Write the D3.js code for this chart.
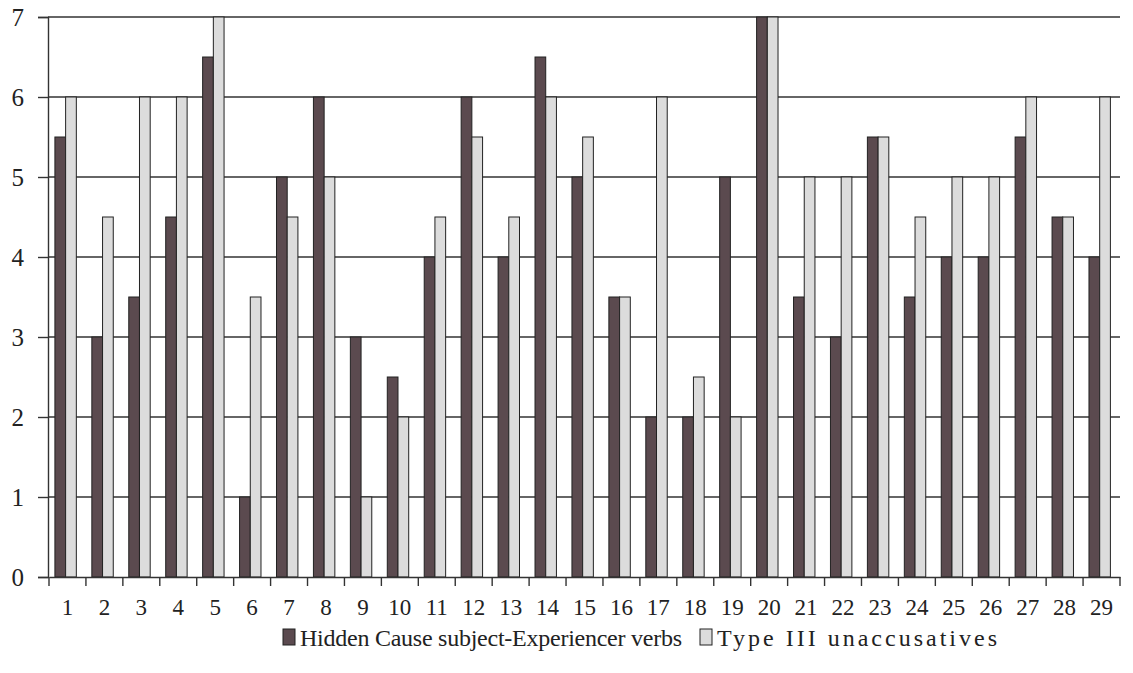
<!DOCTYPE html>
<html>
<head>
<meta charset="utf-8">
<script src="https://cdn.jsdelivr.net/npm/d3@7"></script>
<style>
  body { margin: 0; background: #fff; }
  svg { display: block; }
  svg text { font-family: "Liberation Serif", "Times New Roman", "DejaVu Serif", serif; }
</style>
</head>
<body>
<div id="chart"></div>
<script>
// data
const categories = d3.range(1, 30).map(String);
const hiddenCause = [5.5, 3, 3.5, 4.5, 6.5, 1, 5, 6, 3, 2.5, 4, 6, 4, 6.5, 5, 3.5, 2, 2, 5, 7, 3.5, 3, 5.5, 3.5, 4, 4, 5.5, 4.5, 4];
const typeIII = [6, 4.5, 6, 6, 7, 3.5, 4.5, 5, 1, 2, 4.5, 5.5, 4.5, 6, 5.5, 3.5, 6, 2.5, 2, 7, 5, 5, 5.5, 4.5, 5, 5, 6, 4.5, 6];
const seriesNames = ["Hidden Cause subject-Experiencer verbs", "Type III unaccusatives"];
const seriesColors = ["#5b4a4f", "#dcdcdc"];
const yTicks = [0, 1, 2, 3, 4, 5, 6, 7];

const width = 1133, height = 673;
const margin = { left: 48, right: 13, top: 17, bottom: 96 };

const svg = d3.select("#chart").append("svg")
    .attr("width", width)
    .attr("height", height);

const x = d3.scaleBand()
    .domain(categories)
    .range([margin.left + 1, width - margin.right])
    .paddingInner(0)
    .paddingOuter(0);

const sub = d3.scaleBand()
    .domain([0, 1])
    .range([x.bandwidth() * 0.16, x.bandwidth() * 0.74]);

const y = d3.scaleLinear()
    .domain([0, 7])
    .range([height - margin.bottom, margin.top]);

// horizontal grid
svg.append("g")
    .selectAll("line")
    .data(yTicks.slice(1))
    .enter()
    .append("line")
    .attr("x1", margin.left)
    .attr("x2", width - margin.right)
    .attr("y1", d => y(d))
    .attr("y2", d => y(d))
    .attr("stroke", "#333")
    .attr("stroke-width", 1.4);

// bars
const rows = categories.map((c, i) => ({ c, vals: [hiddenCause[i], typeIII[i]] }));
const groups = svg.selectAll(".grp")
    .data(rows)
    .enter()
    .append("g")
    .attr("transform", d => `translate(${x(d.c)},0)`);

groups.selectAll("rect")
    .data(d => d.vals.map((v, k) => ({ v, k })))
    .enter()
    .append("rect")
    .attr("x", d => sub(d.k))
    .attr("y", d => y(d.v))
    .attr("width", sub.bandwidth())
    .attr("height", d => y(0) - y(d.v))
    .attr("fill", d => seriesColors[d.k])
    .attr("stroke", "#222")
    .attr("stroke-width", 1);

// y axis
const yAxis = svg.append("g")
    .attr("transform", `translate(${margin.left},0)`)
    .call(d3.axisLeft(y).tickValues(yTicks).tickSize(10).tickPadding(14).tickFormat(d3.format("d")));
yAxis.attr("font-family", null);
yAxis.select(".domain").attr("stroke", "#333").attr("stroke-width", 1.4);
yAxis.selectAll(".tick line").attr("stroke", "#333").attr("stroke-width", 1.4);
yAxis.selectAll("text")
    .style("font-size", "25px")
    .attr("fill", "#222");

// x axis
const xAxis = svg.append("g")
    .attr("transform", `translate(0,${y(0)})`)
    .call(d3.axisBottom(x).tickSize(0).tickPadding(22));
xAxis.attr("font-family", null);
xAxis.select(".domain").attr("stroke", "#333").attr("stroke-width", 1.4);
xAxis.selectAll("text")
    .style("font-size", "23px")
    .attr("fill", "#222");

// x boundary ticks
svg.append("g")
    .selectAll("line")
    .data(categories.concat(["end"]))
    .enter()
    .append("line")
    .attr("x1", (d, i) => i < categories.length ? x(d) : x.range()[1])
    .attr("x2", (d, i) => i < categories.length ? x(d) : x.range()[1])
    .attr("y1", y(0))
    .attr("y2", y(0) + 9)
    .attr("stroke", "#333")
    .attr("stroke-width", 1.4);

// legend (spacing adjusted to match the printed figure)
const legendWidths = [382, 280];
const legend = svg.append("g").attr("transform", `translate(283,637)`);
let lx = 0;
seriesNames.forEach((name, k) => {
    legend.append("rect")
        .attr("x", lx)
        .attr("y", -8)
        .attr("width", 12)
        .attr("height", 16)
        .attr("fill", seriesColors[k])
        .attr("stroke", "#222");
    legend.append("text")
        .attr("x", lx + 17)
        .attr("y", 9)
        .attr("textLength", legendWidths[k])
        .attr("lengthAdjust", "spacing")
        .style("font-size", "24px")
        .attr("fill", "#222")
        .text(name);
    lx += 17 + legendWidths[k] + 18;
});
</script>
</body>
</html>
